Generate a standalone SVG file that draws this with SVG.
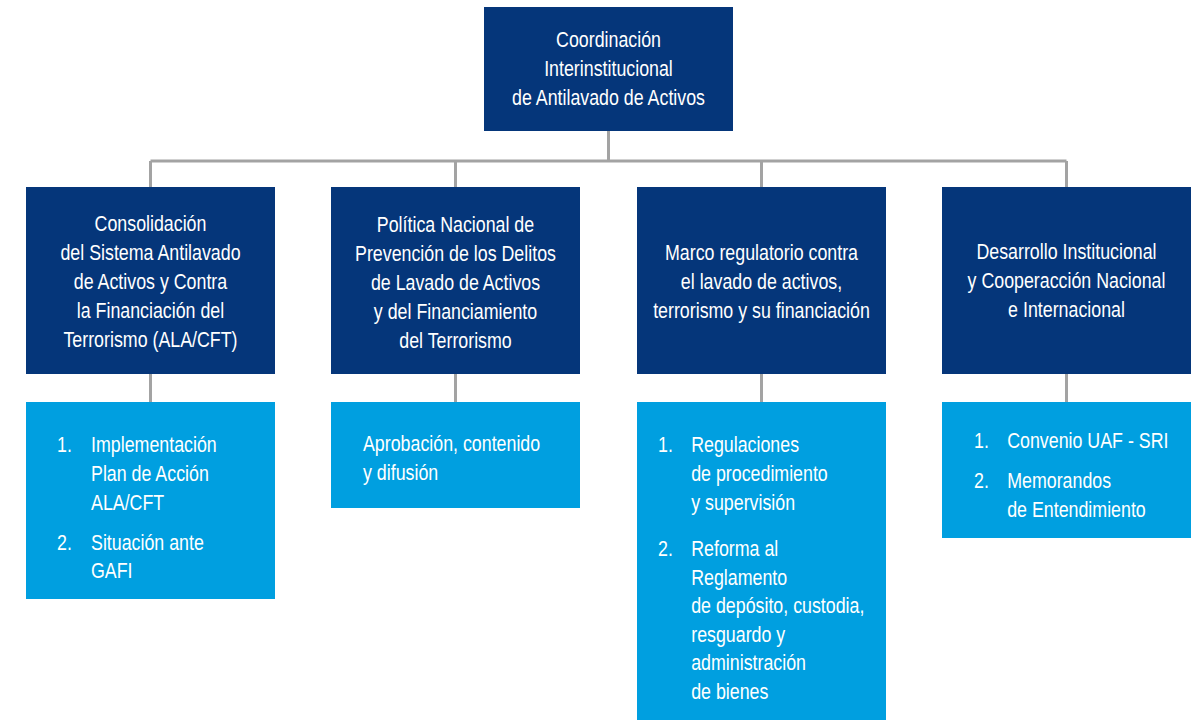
<svg xmlns="http://www.w3.org/2000/svg" width="1197" height="720" viewBox="0 0 1197 720">
<style>
.dark{fill:#05367a}
.light{fill:#009fe0}
.t{font-family:"Liberation Sans",Arial,sans-serif;font-size:22px;fill:#ffffff}
.c{text-anchor:middle}
.conn{stroke:#a3a3a3;stroke-width:3;fill:none}
</style>
<rect width="1197" height="720" fill="#ffffff"/>
<g id="connectors">
<path class="conn" d="M608.5 131V161M150.5 161H1066.5M150.5 161V188M455.5 161V188M761.5 161V188M1066.5 161V188"/>
<path class="conn" d="M150.5 374V402M455.5 374V402M761.5 374V402M1066.5 374V402"/>
</g>
<g id="root">
<rect class="dark" x="484" y="7" width="249" height="124"/>
<g transform="translate(608.5 0) scale(0.81 1)">
<text class="t c" x="0" y="47">Coordinación</text>
<text class="t c" x="0" y="76">Interinstitucional</text>
<text class="t c" x="0" y="105">de Antilavado de Activos</text>
</g>
</g>
<g id="n1">
<rect class="dark" x="26" y="187" width="249" height="187"/>
<g transform="translate(150.5 0) scale(0.81 1)">
<text class="t c" x="0" y="231">Consolidación</text>
<text class="t c" x="0" y="260">del Sistema Antilavado</text>
<text class="t c" x="0" y="289">de Activos y Contra</text>
<text class="t c" x="0" y="318">la Financiación del</text>
<text class="t c" x="0" y="347">Terrorismo (ALA/CFT)</text>
</g>
</g>
<g id="n2">
<rect class="dark" x="331" y="187" width="249" height="187"/>
<g transform="translate(455.5 0) scale(0.81 1)">
<text class="t c" x="0" y="232">Política Nacional de</text>
<text class="t c" x="0" y="261">Prevención de los Delitos</text>
<text class="t c" x="0" y="290">de Lavado de Activos</text>
<text class="t c" x="0" y="319">y del Financiamiento</text>
<text class="t c" x="0" y="348">del Terrorismo</text>
</g>
</g>
<g id="n3">
<rect class="dark" x="637" y="187" width="249" height="187"/>
<g transform="translate(761.5 0) scale(0.81 1)">
<text class="t c" x="0" y="260">Marco regulatorio contra</text>
<text class="t c" x="0" y="289">el lavado de activos,</text>
<text class="t c" x="0" y="318">terrorismo y su financiación</text>
</g>
</g>
<g id="n4">
<rect class="dark" x="942" y="187" width="249" height="187"/>
<g transform="translate(1066.5 0) scale(0.81 1)">
<text class="t c" x="0" y="259">Desarrollo Institucional</text>
<text class="t c" x="0" y="288">y Cooperacción Nacional</text>
<text class="t c" x="0" y="317">e Internacional</text>
</g>
</g>
<g id="l1">
<rect class="light" x="26" y="402" width="249" height="197"/>
<g transform="translate(57 0) scale(0.81 1)">
<text class="t" x="0" y="452">1.</text>
<text class="t" x="42" y="452">Implementación</text>
<text class="t" x="42" y="481">Plan de Acción</text>
<text class="t" x="42" y="510">ALA/CFT</text>
<text class="t" x="0" y="550">2.</text>
<text class="t" x="42" y="550">Situación ante</text>
<text class="t" x="42" y="578">GAFI</text>
</g>
</g>
<g id="l2">
<rect class="light" x="331" y="402" width="249" height="106"/>
<g transform="translate(363 0) scale(0.81 1)">
<text class="t" x="0" y="451">Aprobación, contenido</text>
<text class="t" x="0" y="480">y difusión</text>
</g>
</g>
<g id="l3">
<rect class="light" x="637" y="402" width="249" height="318"/>
<g transform="translate(658 0) scale(0.81 1)">
<text class="t" x="0" y="452">1.</text>
<text class="t" x="41" y="452">Regulaciones</text>
<text class="t" x="41" y="481">de procedimiento</text>
<text class="t" x="41" y="510">y supervisión</text>
<text class="t" x="0" y="556">2.</text>
<text class="t" x="41" y="556">Reforma al</text>
<text class="t" x="41" y="585">Reglamento</text>
<text class="t" x="41" y="613">de depósito, custodia,</text>
<text class="t" x="41" y="642">resguardo y</text>
<text class="t" x="41" y="670">administración</text>
<text class="t" x="41" y="699">de bienes</text>
</g>
</g>
<g id="l4">
<rect class="light" x="942" y="402" width="249" height="136"/>
<g transform="translate(974 0) scale(0.81 1)">
<text class="t" x="0" y="448">1.</text>
<text class="t" x="41" y="448">Convenio UAF - SRI</text>
<text class="t" x="0" y="488">2.</text>
<text class="t" x="41" y="488">Memorandos</text>
<text class="t" x="41" y="517">de Entendimiento</text>
</g>
</g>
</svg>
